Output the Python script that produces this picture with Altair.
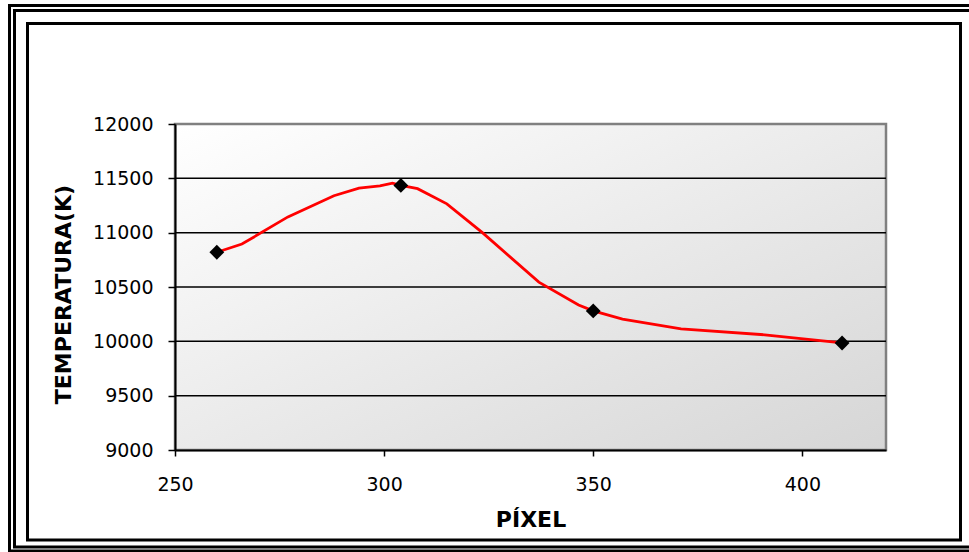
import altair as alt
import pandas as pd

# Temperature profile along the pixel axis
line_px = [260, 266, 277, 288, 294, 299, 302, 304, 308, 315, 323.5, 337, 346.5, 350, 357, 371, 391, 409.5]
line_temp = [10820, 10895, 11145, 11340, 11410, 11430, 11455, 11435, 11405, 11265, 11000, 10545,
             10335, 10280, 10205, 10115, 10060, 9985]

# Measured points
meas_px = [260, 304, 350, 409.5]
meas_temp = [10820, 11435, 10280, 9985]

x_ticks = [250, 300, 350, 400]
y_ticks = [9000, 9500, 10000, 10500, 11000, 11500, 12000]
grid_vals = [9500, 10000, 10500, 11000, 11500]

W, H = 711, 326
PAD_L, PAD_T, PAD_R, PAD_B = 175, 124, 83, 102

FONT = "DejaVu Sans"

line_df = pd.DataFrame({"px": line_px, "temp": line_temp})
meas_df = pd.DataFrame({"px": meas_px, "temp": meas_temp})
grid_df = pd.DataFrame({"temp": grid_vals})
one = alt.Data(values=[{}])

x_scale = alt.Scale(domain=[250, 420], nice=False, zero=False)
y_scale = alt.Scale(domain=[9000, 12000], nice=False, zero=False)

x_axis = alt.Axis(
    values=x_ticks, format="d", grid=False, zindex=1, labelFlush=False,
    domainColor="black", domainWidth=2, tickColor="black", tickWidth=1.5, tickSize=6,
    labelPadding=19, labelFont=FONT, labelFontSize=19, labelColor="black",
    title="PÍXEL", titleFont=FONT, titleFontSize=22, titleFontWeight="bold", titleColor="black",
    titleX=W / 2, titleY=69, titleAlign="center", titleBaseline="middle",
)
y_axis = alt.Axis(
    values=y_ticks, format="d", grid=False, zindex=1, labelFlush=False,
    domainColor="black", domainWidth=2, tickColor="black", tickWidth=1.5, tickSize=7,
    labelPadding=15, labelFont=FONT, labelFontSize=19, labelColor="black",
    title="TEMPERATURA(K)", titleFont=FONT, titleFontSize=22, titleFontWeight="bold", titleColor="black",
    titleAngle=-90, titleX=-112, titleY=170, titleAlign="center", titleBaseline="middle",
)


def frame(left, top, right, bottom, width=3):
    # outline rectangle given in page pixels
    return alt.Chart(one).mark_rect(filled=False, stroke="black", strokeWidth=width).encode(
        x=alt.value(left - PAD_L), x2=alt.value(right - PAD_L),
        y=alt.value(top - PAD_T), y2=alt.value(bottom - PAD_T),
    )


frames = [
    frame(9.5, 5.5, 985, 551),
    frame(14.5, 10.5, 978, 547),
    frame(27.5, 23.5, 960.5, 540),
]

gradient = alt.LinearGradient(
    gradient="linear",
    stops=[alt.GradientStop(color="#ffffff", offset=0), alt.GradientStop(color="#d6d6d6", offset=1)],
    x1=0, x2=1, y1=0, y2=1,
)
plot_bg = alt.Chart(one).mark_rect(color=gradient, stroke="#808080", strokeWidth=2.5).encode(
    x=alt.value(0), x2=alt.value(W), y=alt.value(0), y2=alt.value(H)
)

grid = alt.Chart(grid_df).mark_rule(color="black", strokeWidth=1.5).encode(
    y=alt.Y("temp:Q", scale=y_scale, axis=y_axis)
)

line = alt.Chart(line_df).mark_line(color="#ff0000", strokeWidth=2.8).encode(
    x=alt.X("px:Q", scale=x_scale, axis=x_axis),
    y=alt.Y("temp:Q", scale=y_scale, axis=y_axis),
)

points = alt.Chart(meas_df).mark_point(shape="diamond", filled=True, color="black", size=220, opacity=1).encode(
    x=alt.X("px:Q", scale=x_scale, axis=x_axis),
    y=alt.Y("temp:Q", scale=y_scale, axis=y_axis),
)

chart = alt.layer(*frames, plot_bg, grid, line, points).properties(
    width=W, height=H,
    autosize=alt.AutoSizeParams(type="none"),
    padding={"left": PAD_L, "top": PAD_T, "right": PAD_R, "bottom": PAD_B},
    background="white",
).configure_view(stroke=None)

chart.save("out.html", embed_options={"renderer": "svg", "actions": False})
